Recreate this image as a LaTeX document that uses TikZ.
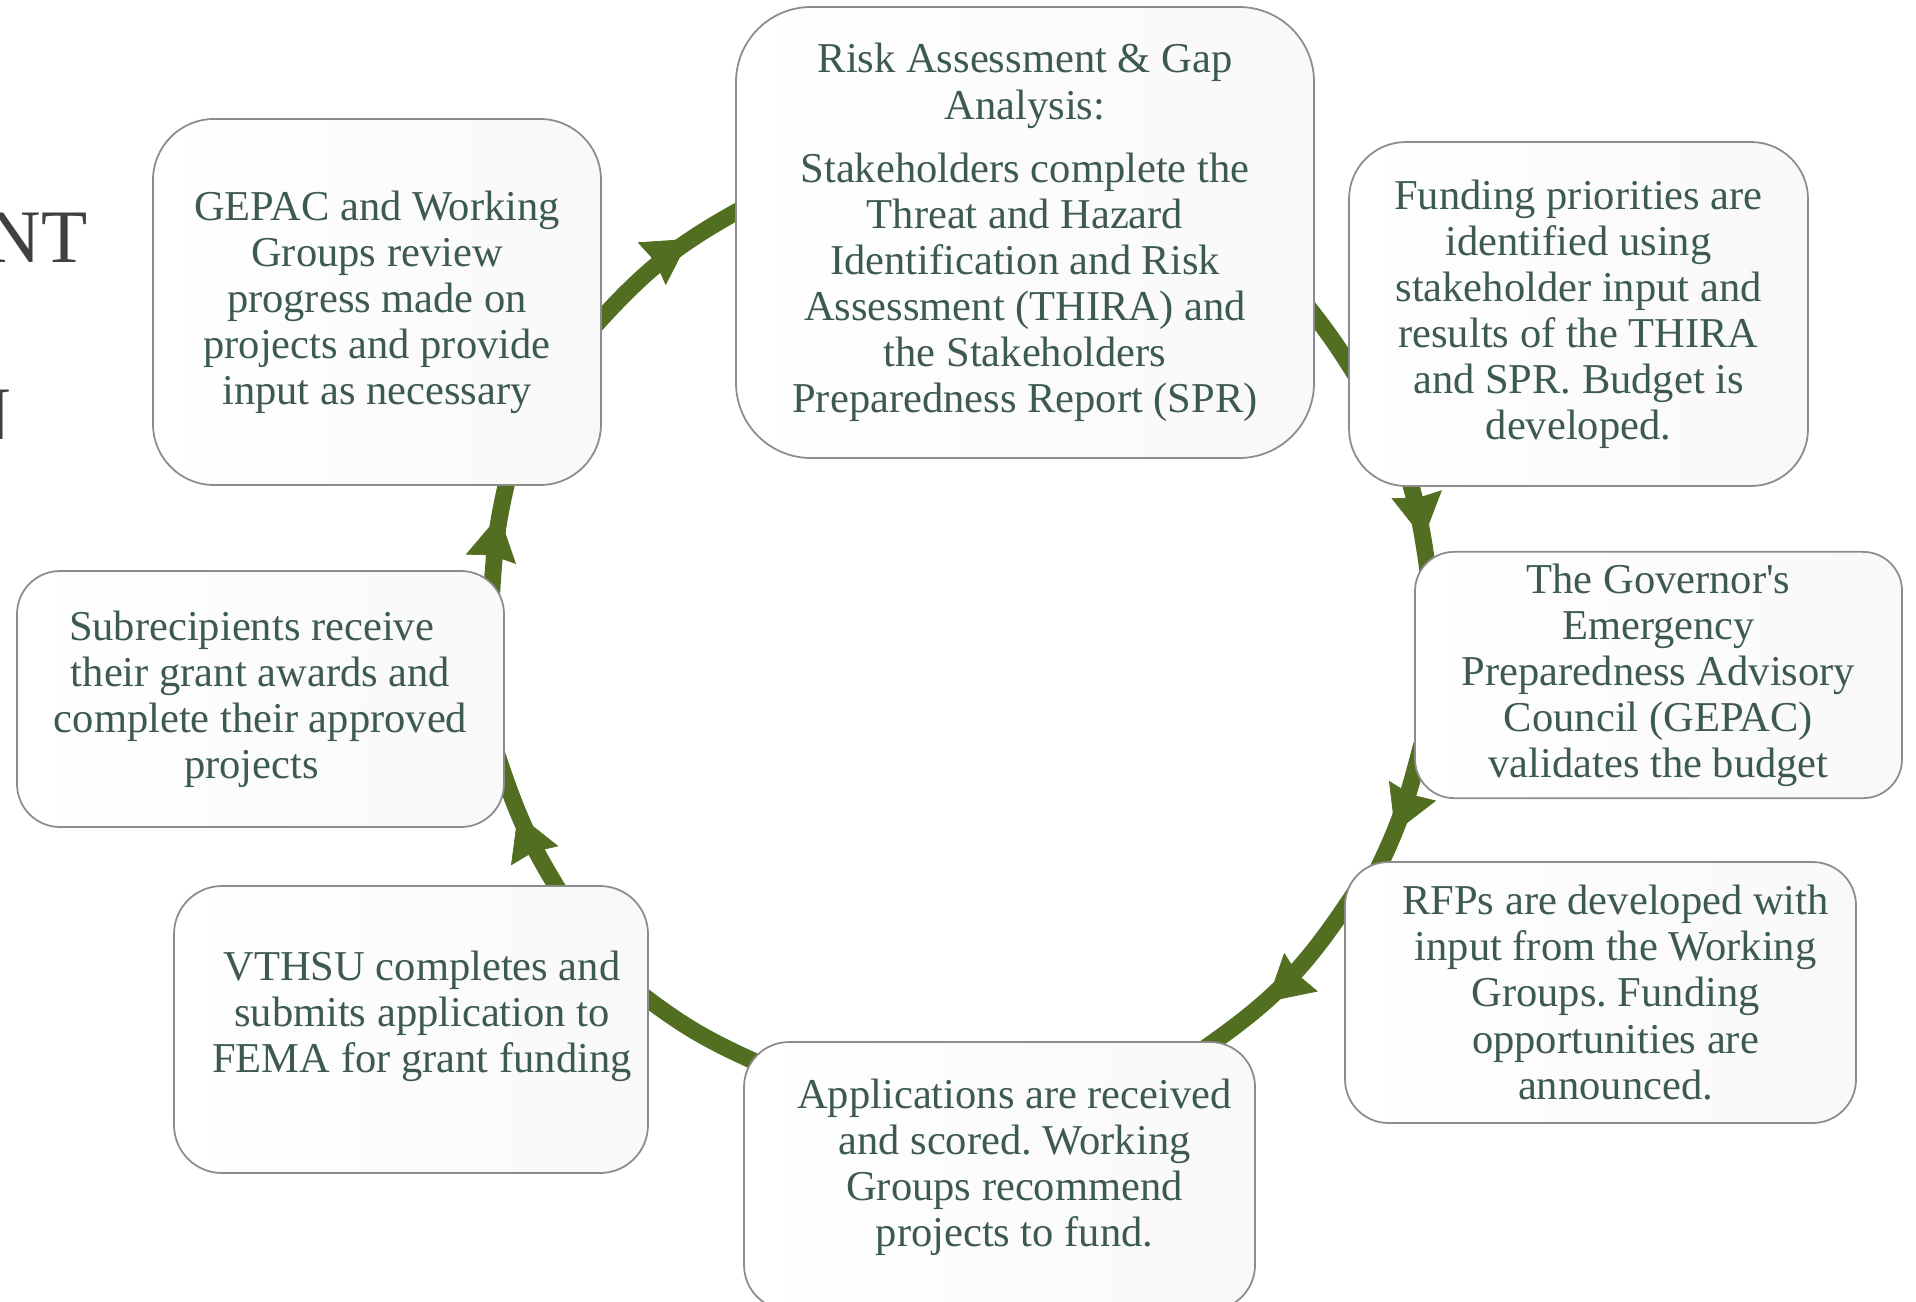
\documentclass[tikz,border=0pt]{standalone}
\usepackage{fontspec}
\setmainfont{Liberation Serif}
\usetikzlibrary{arrows.meta,decorations.markings,backgrounds}
\definecolor{verdeflecha}{RGB}{82,110,32}
\definecolor{textoverde}{RGB}{61,91,76}
\definecolor{bordecaja}{RGB}{140,140,140}
\definecolor{titulo}{RGB}{64,64,64}
\tikzstyle{etapa}=[rectangle, draw=bordecaja, line width=0.5pt, left color=white, right color=black!2.5, text=textoverde, align=center, font=\fontsize{12.1}{13.1}\selectfont\frenchspacing]
\tikzstyle{ciclo}=[color=verdeflecha, line width=4.8pt, shorten <=-3mm, shorten >=-3mm]
\tikzstyle{titular}=[anchor=base east, inner sep=0pt, text=titulo, font=\fontsize{21.5}{24}\selectfont]

\begin{document}
\begin{tikzpicture}[x=0.1mm, y=0.1mm, >={Stealth[length=4.5mm, width=5.1mm, inset=0.4mm, line width=0.2pt]}]
    \useasboundingbox (0,0) rectangle (1916,-1301);
    % Restos del titulo, cortado por la izquierda
    \node[titular] (tit1) at (88,-262) {NT};
    \node[titular] (tit2) at (12,-439) {N};

    % Cajas del ciclo
    \node[etapa, minimum width=44.8mm, minimum height=36.6mm, rounded corners=6.1mm] (gepac) at (377,-302)
        {GEPAC and Working\\Groups review\\progress made on\\projects and provide\\input as necessary};
    \node[etapa, minimum width=57.8mm, minimum height=45.1mm, rounded corners=7.5mm] (risk) at (1025,-232.5)
        {Risk Assessment \& Gap\\Analysis:\\[4.9pt]Stakeholders complete the\\Threat and Hazard\\Identification and Risk\\Assessment (THIRA) and\\the Stakeholders\\Preparedness Report (SPR)};
    \node[etapa, minimum width=45.9mm, minimum height=34.4mm, rounded corners=5.7mm] (fund) at (1578.5,-314)
        {Funding priorities are\\identified using\\stakeholder input and\\results of the THIRA\\and SPR. Budget is\\developed.};
    \node[etapa, minimum width=48.7mm, minimum height=23.6mm, rounded corners=3.9mm] (gov) at (1658.5,-675)
        {The Governor\textquotesingle s\\Emergency\\Preparedness Advisory\\Council (GEPAC)\\validates the budget};
    \node[etapa, minimum width=51.1mm, minimum height=26.1mm, rounded corners=4.35mm] (rfp) at (1600.5,-992.5)
        {\hspace*{3mm}RFPs are developed with\\\hspace*{3mm}input from the Working\\\hspace*{3mm}Groups. Funding\\\hspace*{3mm}opportunities are\\\hspace*{3mm}announced.};
    \node[etapa, minimum width=51.1mm, minimum height=26.8mm, rounded corners=4.5mm] (app) at (999.5,-1176)
        {\hspace*{3mm}Applications are received\\\hspace*{3mm}and scored. Working\\\hspace*{3mm}Groups recommend\\\hspace*{3mm}projects to fund.\rule[-2.6mm]{0pt}{0pt}};
    \node[etapa, minimum width=47.4mm, minimum height=28.7mm, rounded corners=4.8mm] (vthsu) at (411,-1029.5)
        {\hspace*{2.2mm}VTHSU completes and\\\hspace*{2.2mm}submits application to\\\hspace*{2.2mm}FEMA for grant funding\rule[-3.5mm]{0pt}{0pt}};
    \node[etapa, minimum width=48.7mm, minimum height=25.6mm, rounded corners=4.3mm] (subr) at (260.5,-699)
        {Subrecipients receive\hspace*{1.8mm}\\their grant awards and\hspace*{1.8mm}\\complete their approved\hspace*{1.8mm}\\projects\hspace*{1.8mm}};

    % Flechas del ciclo (debajo de las cajas)
    \begin{scope}[on background layer]
        \foreach \ori/\sa/\des/\ea/\cur/\p in {gepac/-4.1/risk/176.1/10.3/0.69,
                fund/-134.2/gov/152.8/4.4/0.81,
                gov/-158.3/rfp/149.7/5.85/0.66,
                rfp/162.9/app/32.9/11.4/0.65,
                vthsu/45.4/subr/-18.7/6.95/0.68,
                subr/29.7/gepac/-55/5.3/0.65}{
            \draw[ciclo, decoration={markings, mark=at position \p with {\arrow{>}}}, postaction={decorate}]
                (\ori.\sa) to[bend left=\cur] (\des.\ea);
        }
        \draw[ciclo] (risk.-16.5) to[bend left=3.4] (fund.-168.2);
        \draw[ciclo] (app.155.8) to[bend left=6.95] (vthsu.7.7);
    \end{scope}
\end{tikzpicture}
\end{document}
